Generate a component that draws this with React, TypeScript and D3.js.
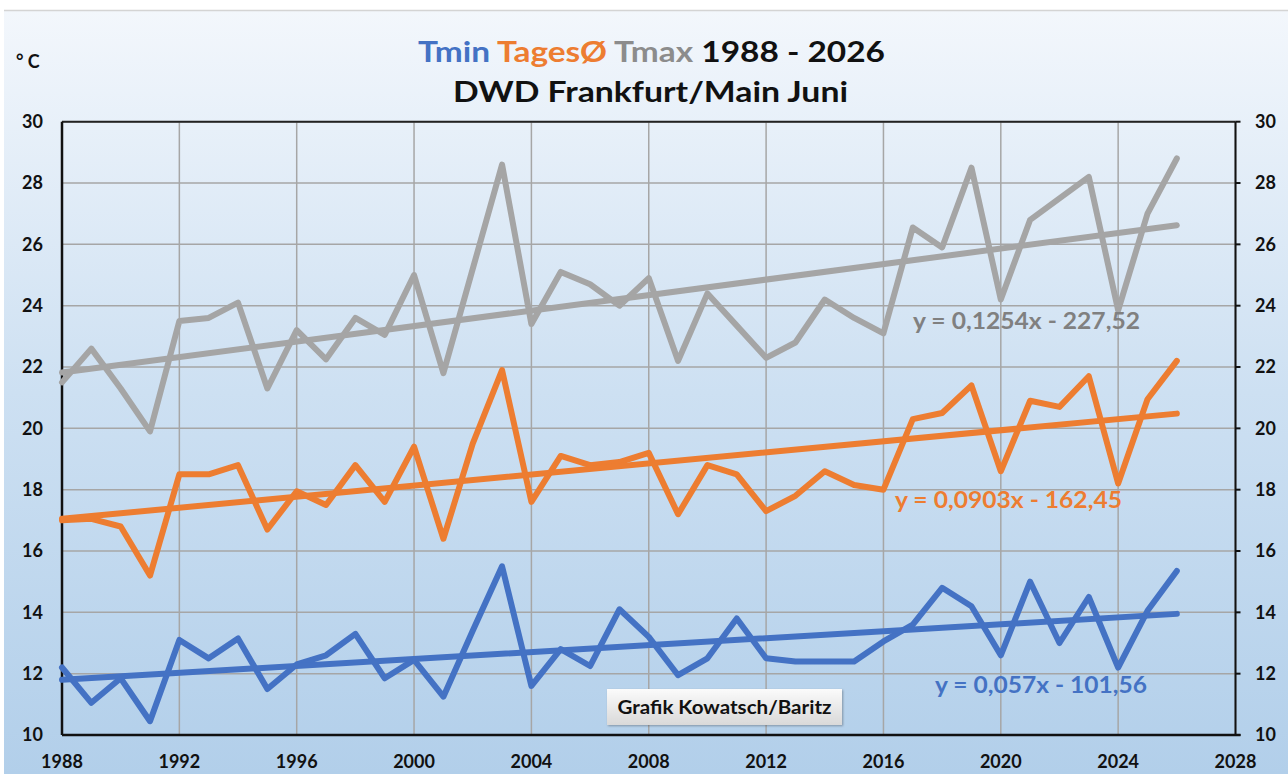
import React from "react";
import * as d3 from "d3";

const years = d3.range(1988, 2027);
const tmin = [12.2, 11.05, 11.85, 10.45, 13.1, 12.5, 13.15, 11.5, 12.3, 12.6, 13.3, 11.85, 12.45, 11.25, 13.4, 15.5, 11.6, 12.8, 12.25, 14.1, 13.2, 11.95, 12.5, 13.8, 12.5, 12.4, 12.4, 12.4, 13.05, 13.6, 14.8, 14.2, 12.6, 15.0, 13.0, 14.5, 12.2, 14.05, 15.35];
const tmean = [17.0, 17.05, 16.8, 15.2, 18.5, 18.5, 18.8, 16.7, 17.95, 17.5, 18.8, 17.6, 19.4, 16.4, 19.5, 21.9, 17.6, 19.1, 18.8, 18.9, 19.2, 17.2, 18.8, 18.5, 17.3, 17.8, 18.6, 18.15, 18.0, 20.3, 20.5, 21.4, 18.6, 20.9, 20.7, 21.7, 18.2, 20.95, 22.2];
const tmax = [21.5, 22.6, 21.3, 19.9, 23.5, 23.6, 24.1, 21.3, 23.2, 22.25, 23.6, 23.05, 25.0, 21.8, 25.2, 28.6, 23.4, 25.1, 24.7, 24.0, 24.9, 22.2, 24.4, 23.35, 22.3, 22.8, 24.2, 23.6, 23.1, 26.55, 25.9, 28.5, 24.2, 26.8, 27.5, 28.2, 23.85, 27.0, 28.8];

// trend line end values (1988, 2026)
const trendYears = [1988, 2026];
const tminTrend = [11.8, 13.95];
const tmeanTrend = [17.05, 20.48];
const tmaxTrend = [21.82, 26.62];

const xTicks = d3.range(1988, 2029, 4);
const yTicks = d3.range(10, 31, 2);

const trendLabels = [
  { text: "y = 0,1254x - 227,52", color: "#808080", x: 913, y: 329, w: 227 },
  { text: "y = 0,0903x - 162,45", color: "#ed7d31", x: 895, y: 508, w: 227 },
  { text: "y = 0,057x - 101,56", color: "#4472c4", x: 935, y: 693, w: 212 },
];

const BLUE = "#4472c4";
const ORANGE = "#ed7d31";
const GRAY = "#a5a5a5";

export default function App() {
  const W = 1288, H = 774;
  const x = d3.scaleLinear().domain([1988, 2028]).range([62, 1235.5]);
  const y = d3.scaleLinear().domain([10, 30]).range([735, 121.7]);
  const line = d3.line<[number, number]>().x(d => x(d[0])).y(d => y(d[1]));
  const mk = (vals: number[], yrs: number[] = years) => line(vals.map((v, i) => [yrs[i], v]) as [number, number][]) || "";
  const font = "Lato, 'Open Sans', sans-serif";
  const SW = 6;

  return (
    <svg width={W} height={H} style={{ position: "absolute", left: 0, top: 0, display: "block" }}>
      <defs>
        <linearGradient id="bg" x1="0" y1="0" x2="0" y2="1">
          <stop offset="0" stopColor="#f3f7fc" />
          <stop offset="0.5" stopColor="#cde0f2" />
          <stop offset="1" stopColor="#b2cfea" />
        </linearGradient>
        <linearGradient id="box" x1="0" y1="0" x2="0" y2="1">
          <stop offset="0" stopColor="#fbfbfb" />
          <stop offset="1" stopColor="#d9d9d9" />
        </linearGradient>
        <filter id="sh" x="-10%" y="-30%" width="120%" height="160%">
          <feDropShadow dx="1" dy="1" stdDeviation="1.2" floodColor="#000" floodOpacity="0.3" />
        </filter>
      </defs>
      <rect x={0} y={0} width={W} height={H} fill="#ffffff" />
      <rect x={4} y={10} width={W - 4} height={H - 10} fill="url(#bg)" />
      <line x1={4} x2={W} y1={10.5} y2={10.5} stroke="#d4d4d4" strokeWidth={1.5} />

      {/* grid */}
      {yTicks.map(t => (
        <line key={"gy" + t} x1={x(1988)} x2={x(2028)} y1={y(t)} y2={y(t)} stroke="#a6a6a6" strokeWidth={1.5} />
      ))}
      {xTicks.map(t => (
        <line key={"gx" + t} x1={x(t)} x2={x(t)} y1={y(30)} y2={y(10)} stroke="#a6a6a6" strokeWidth={1.5} />
      ))}
      {/* frame */}
      <line x1={x(1988)} x2={x(2028)} y1={y(30)} y2={y(30)} stroke="#222" strokeWidth={2} />
      <line x1={x(1988)} x2={x(2028) + 5} y1={y(10)} y2={y(10)} stroke="#111" strokeWidth={2.5} />
      <line x1={x(1988)} x2={x(1988)} y1={y(30)} y2={y(10)} stroke="#111" strokeWidth={2.5} />
      <line x1={x(2028)} x2={x(2028)} y1={y(30)} y2={y(10)} stroke="#111" strokeWidth={2} />
      {yTicks.map(t => (
        <line key={"rt" + t} x1={x(2028)} x2={x(2028) + 5} y1={y(t)} y2={y(t)} stroke="#111" strokeWidth={2} />
      ))}

      {/* tick labels */}
      {yTicks.map(t => (
        <text key={"yl" + t} x={43} y={y(t)} dy="0.35em" textAnchor="end" fontFamily={font} fontWeight={700} fontSize={18} fill="#111">{t}</text>
      ))}
      {yTicks.map(t => (
        <text key={"yr" + t} x={1255} y={y(t)} dy="0.35em" textAnchor="start" fontFamily={font} fontWeight={700} fontSize={18} fill="#111">{t}</text>
      ))}
      {xTicks.map(t => (
        <text key={"xl" + t} x={x(t)} y={762} dy="0.35em" textAnchor="middle" fontFamily={font} fontWeight={700} fontSize={18} fill="#111">{t}</text>
      ))}

      {/* series */}
      <path d={mk(tmax)} fill="none" stroke={GRAY} strokeWidth={SW} strokeLinejoin="round" strokeLinecap="round" />
      <path d={mk(tmaxTrend, trendYears)} fill="none" stroke={GRAY} strokeWidth={SW} strokeLinecap="round" />
      <path d={mk(tmean)} fill="none" stroke={ORANGE} strokeWidth={SW} strokeLinejoin="round" strokeLinecap="round" />
      <path d={mk(tmeanTrend, trendYears)} fill="none" stroke={ORANGE} strokeWidth={SW} strokeLinecap="round" />
      <path d={mk(tmin)} fill="none" stroke={BLUE} strokeWidth={SW} strokeLinejoin="round" strokeLinecap="round" />
      <path d={mk(tminTrend, trendYears)} fill="none" stroke={BLUE} strokeWidth={SW} strokeLinecap="round" />

      {/* trend labels */}
      {trendLabels.map(l => (
        <text key={l.text} x={l.x} y={l.y} fontFamily={font} fontWeight={700} fontSize={22} fill={l.color} textLength={l.w} lengthAdjust="spacingAndGlyphs">{l.text}</text>
      ))}

      {/* credit box */}
      <rect x={607} y={689} width={235} height={36} fill="url(#box)" filter="url(#sh)" />
      <text x={724.5} y={714} textAnchor="middle" fontFamily={font} fontWeight={700} fontSize={19} fill="#111" textLength={214} lengthAdjust="spacingAndGlyphs">Grafik Kowatsch/Baritz</text>

      {/* titles */}
      <text x={418} y={62} fontFamily={font} fontWeight={700} fontSize={29} textLength={467} lengthAdjust="spacingAndGlyphs">
        <tspan fill={BLUE}>Tmin </tspan>
        <tspan fill={ORANGE}>TagesØ </tspan>
        <tspan fill="#8c8c8c">Tmax </tspan>
        <tspan fill="#111">1988 - 2026</tspan>
      </text>
      <text x={453} y={102} fontFamily={font} fontWeight={700} fontSize={29} fill="#111" textLength={395} lengthAdjust="spacingAndGlyphs">DWD Frankfurt/Main Juni</text>
      <text x={16} y={68} fontFamily={font} fontWeight={700} fontSize={18} fill="#111">° C</text>
    </svg>
  );
}
